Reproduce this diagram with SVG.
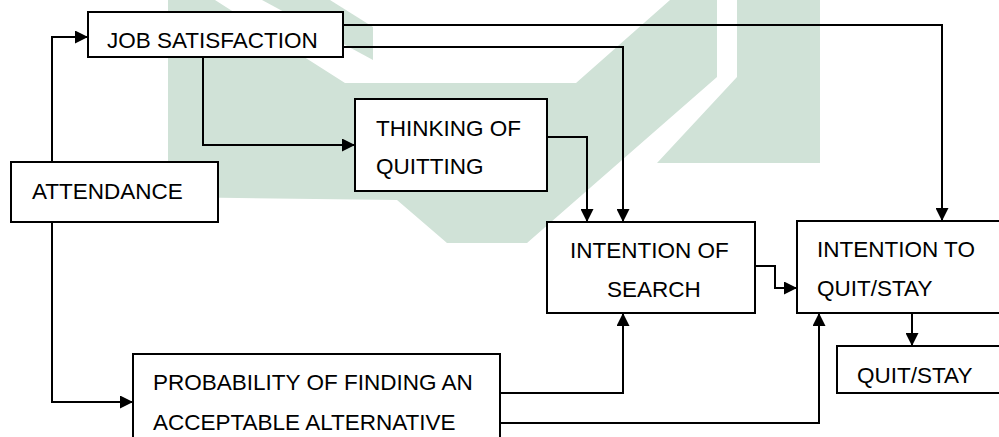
<svg xmlns="http://www.w3.org/2000/svg" width="999" height="437" viewBox="0 0 999 437">
<defs>
<marker id="ah" viewBox="0 0 13 13" refX="13" refY="6.5" markerWidth="13" markerHeight="13" markerUnits="userSpaceOnUse" orient="auto">
<path d="M0,0 L13,6.5 L0,13 z" fill="#000"/>
</marker>
<style>
.box{fill:#fff;stroke:#000;stroke-width:2}
.t{font-family:"Liberation Sans",Arial,sans-serif;font-size:22.5px;fill:#000}
.c{fill:none;stroke:#000;stroke-width:2;marker-end:url(#ah)}
.wm{fill:#d0e2d7;stroke:none}
</style>
</defs>
<rect width="999" height="437" fill="#fff"/>
<g id="watermark">
<polygon class="wm" points="168,0 215,0 345,83 576,83 670,0 717,0 717,77 527,243 447,243 397,200 168,197"/>
<polygon class="wm" points="737,0 820,0 820,163 657,163 737,77"/>
<polygon class="wm" points="262,0 330,0 373,27 373,60"/>
</g>
<g id="connectors">
<path class="c" d="M52,162 V37 H88"/>
<path class="c" d="M52,222 V402 H133"/>
<path class="c" d="M203,57 V145 H355"/>
<path class="c" d="M343,25 H942 V221"/>
<path class="c" d="M343,47 H623 V222"/>
<path class="c" d="M547,137 H587 V222"/>
<path class="c" d="M755,266 H775 V288 H797"/>
<path class="c" d="M912,313 V346"/>
<path class="c" d="M500,393 H623 V313"/>
<path class="c" d="M500,423 H819 V313"/>
</g>
<g id="job-satisfaction">
<rect class="box" x="88" y="12" width="255" height="45"/>
<text class="t" x="107" y="47.5">JOB SATISFACTION</text>
</g>
<g id="attendance">
<rect class="box" x="11" y="162" width="207" height="60"/>
<text class="t" x="32" y="199">ATTENDANCE</text>
</g>
<g id="thinking-of-quitting">
<rect class="box" x="355" y="99" width="192" height="92"/>
<text class="t" x="376" y="136">THINKING OF</text>
<text class="t" x="376" y="174">QUITTING</text>
</g>
<g id="intention-of-search">
<rect class="box" x="547" y="222" width="208" height="91"/>
<text class="t" x="570" y="257.5">INTENTION OF</text>
<text class="t" x="607" y="296.5">SEARCH</text>
</g>
<g id="intention-to-quit-stay">
<rect class="box" x="797" y="221" width="210" height="92"/>
<text class="t" x="817" y="257">INTENTION TO</text>
<text class="t" x="817" y="296">QUIT/STAY</text>
</g>
<g id="quit-stay">
<rect class="box" x="837" y="346" width="170" height="47"/>
<text class="t" x="857" y="382.5">QUIT/STAY</text>
</g>
<g id="probability">
<rect class="box" x="133" y="354" width="367" height="95"/>
<text class="t" x="153" y="390">PROBABILITY OF FINDING AN</text>
<text class="t" x="153" y="430">ACCEPTABLE ALTERNATIVE</text>
</g>
</svg>
